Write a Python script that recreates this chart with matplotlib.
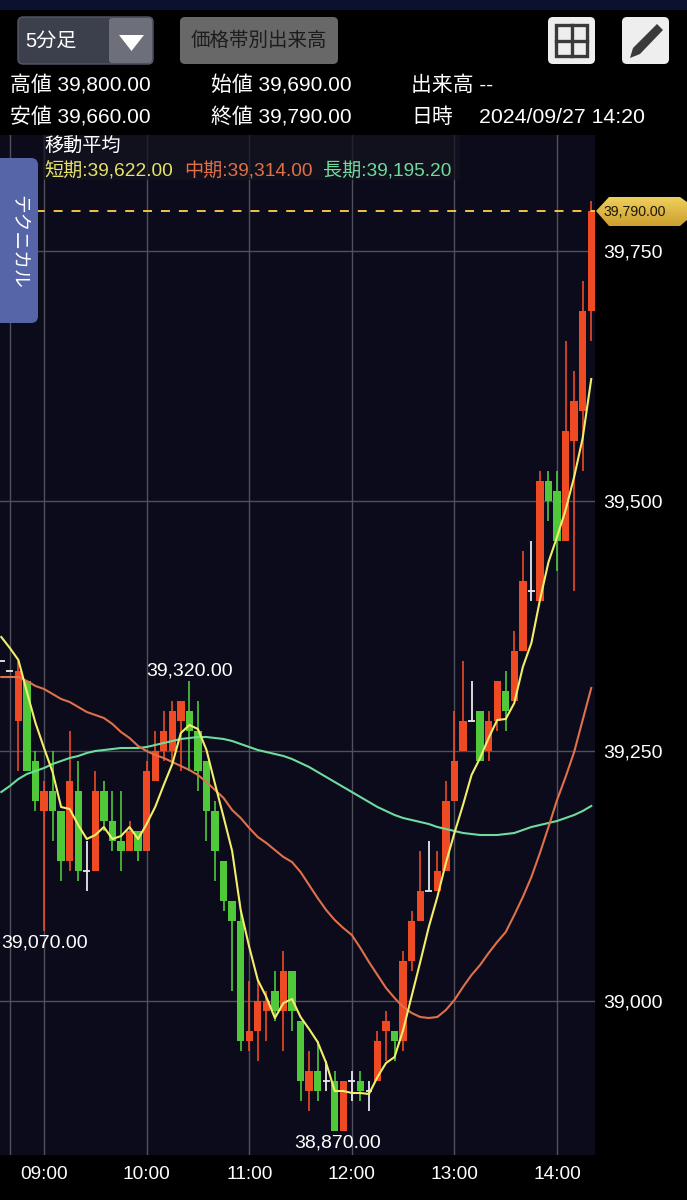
import numpy as np
import matplotlib
matplotlib.use("Agg")
import matplotlib.pyplot as plt
from matplotlib.patches import FancyBboxPatch, Polygon, Rectangle

plt.rcParams['font.family'] = ['Liberation Sans', 'Noto Sans CJK JP', 'DejaVu Sans']

opens = [39340, 39330, 39280, 39320, 39240, 39190, 39210, 39190, 39140, 39210,
         39130, 39130, 39210, 39180, 39160, 39150, 39170, 39150, 39220, 39250,
         39250, 39280, 39290, 39270, 39240, 39190, 39140, 39100, 39080, 38960,
         38970, 38990, 39010, 38990, 39030, 38980, 38910, 38930, 38920, 38920,
         38870, 38920, 38920, 38910, 38920, 38970, 38970, 38960, 39040, 39080,
         39110, 39110, 39130, 39200, 39250, 39280, 39290, 39250, 39280, 39310,
         39300, 39350, 39410, 39400, 39520, 39510, 39460, 39560, 39590, 39690]
highs = [39340, 39330, 39340, 39320, 39250, 39220, 39250, 39190, 39270, 39240,
         39160, 39230, 39220, 39210, 39210, 39180, 39170, 39240, 39270, 39290,
         39300, 39300, 39320, 39300, 39240, 39200, 39140, 39100, 39090, 39020,
         39020, 39010, 39030, 39050, 39030, 38980, 38950, 38960, 38940, 38930,
         38920, 38930, 38930, 38920, 38970, 38990, 38970, 39050, 39090, 39150,
         39160, 39150, 39220, 39290, 39340, 39320, 39290, 39290, 39320, 39330,
         39370, 39450, 39460, 39530, 39530, 39530, 39660, 39630, 39720, 39800]
lows = [39340, 39330, 39230, 39230, 39190, 39070, 39160, 39120, 39130, 39120,
        39110, 39130, 39170, 39150, 39130, 39150, 39140, 39150, 39220, 39240,
        39240, 39230, 39230, 39210, 39160, 39120, 39090, 39010, 38950, 38950,
        38940, 38960, 38980, 38950, 38970, 38900, 38890, 38900, 38910, 38870,
        38870, 38900, 38900, 38890, 38920, 38940, 38940, 38950, 39030, 39080,
        39110, 39110, 39130, 39200, 39250, 39280, 39240, 39240, 39270, 39270,
        39300, 39350, 39400, 39400, 39480, 39430, 39460, 39410, 39530, 39660]
closes = [39340, 39330, 39330, 39230, 39200, 39210, 39190, 39140, 39220, 39130,
          39130, 39210, 39180, 39160, 39150, 39170, 39150, 39230, 39250, 39270,
          39290, 39300, 39270, 39230, 39190, 39150, 39100, 39080, 38960, 38970,
          39000, 39000, 38990, 39030, 38990, 38920, 38930, 38910, 38920, 38870,
          38920, 38920, 38910, 38910, 38960, 38980, 38960, 39040, 39080, 39110,
          39110, 39130, 39200, 39240, 39280, 39280, 39240, 39280, 39320, 39290,
          39350, 39420, 39410, 39520, 39500, 39460, 39570, 39600, 39690, 39790]

ma_short = [39364, 39353, 39341, 39309, 39278, 39253, 39229, 39194, 39192, 39176,
            39162, 39166, 39174, 39162, 39165, 39174, 39162, 39177, 39194, 39216,
            39237, 39268, 39276, 39272, 39251, 39217, 39184, 39150, 39091, 39054,
            39021, 39004, 38983, 38998, 39002, 38984, 38972, 38959, 38938, 38910,
            38910, 38908, 38908, 38907, 38924, 38938, 38944, 38971, 39005, 39039,
            39074, 39104, 39138, 39168, 39196, 39226, 39243, 39263, 39281, 39282,
            39298, 39334, 39358, 39401, 39439, 39464, 39491, 39524, 39563, 39622]
ma_mid = [39324, 39324, 39324, 39320, 39315, 39312, 39307, 39302, 39299, 39294,
          39289, 39286, 39283, 39277, 39269, 39263, 39255, 39250, 39246, 39243,
          39239, 39235, 39231, 39226, 39219, 39211, 39203, 39191, 39183, 39173,
          39164, 39158, 39151, 39144, 39139, 39129, 39116, 39103, 39091, 39081,
          39073, 39066, 39053, 39039, 39026, 39013, 39003, 38994, 38988, 38984,
          38983, 38984, 38991, 39001, 39014, 39026, 39036, 39048, 39059, 39069,
          39086, 39104, 39124, 39148, 39174, 39201, 39224, 39249, 39281, 39313]
ma_long = [39209, 39215, 39222, 39227, 39230, 39233, 39237, 39240, 39243, 39245,
           39248, 39250, 39251, 39252, 39253, 39253, 39253, 39254, 39256, 39258,
           39260, 39262, 39263, 39264, 39264, 39263, 39262, 39260, 39257, 39254,
           39251, 39249, 39247, 39245, 39242, 39238, 39234, 39229, 39224, 39219,
           39214, 39209, 39204, 39199, 39194, 39190, 39186, 39183, 39181, 39179,
           39177, 39174, 39172, 39170, 39168, 39167, 39166, 39166, 39166, 39167,
           39168, 39171, 39174, 39176, 39178, 39180, 39183, 39186, 39190, 39195]

first_idx = -5
idx = list(range(first_idx, first_idx + len(opens)))

time_pos = [-4, 0, 12, 24, 36, 48, 60]
time_labels = ['', '09:00', '10:00', '11:00', '12:00', '13:00', '14:00']
price_ticks = [39000, 39250, 39500, 39750]
price_labels = ['39,000', '39,250', '39,500', '39,750']
last_close = 39790

W, H = 687, 1200
RED, GREEN = '#ee4a24', '#4fc93a'
PANEL = '#0b0b1b'

fig = plt.figure(figsize=(W / 100, H / 100), dpi=100, facecolor='black')

# chart panel, x 0-595 and y 135-1155 in pixels
ax = fig.add_axes([0, 1 - 1155 / H, 595 / W, 1020 / H], facecolor=PANEL)
ax.set_xlim(-5.15, 64.44)
ax.set_ylim(38846, 39866)
ax.grid(True, color='#50505a', linewidth=1.0, zorder=1)
ax.set_axisbelow(True)
for s in ax.spines.values():
    s.set_visible(False)
ax.yaxis.tick_right()
ax.set_yticks(price_ticks, price_labels, color='white', fontsize=14)
ax.set_xticks(time_pos, time_labels, color='white', fontsize=13.8)
ax.tick_params(axis='y', length=0, pad=6)
ax.tick_params(axis='x', length=0, pad=8)

for i, o, h, l, c in zip(idx, opens, highs, lows, closes):
    if o == c:
        ax.vlines(i, l, h, color='#e8e8ee', linewidth=1.3, zorder=3)
        ax.hlines(c, i - 0.4, i + 0.4, color='#e8e8ee', linewidth=1.3, zorder=3)
        continue
    col = RED if c > o else GREEN
    ax.vlines(i, l, h, color=col, linewidth=1.2, zorder=3)
    ax.bar(i, abs(c - o), bottom=min(o, c), width=0.86, color=col, linewidth=0, zorder=3)

ax.plot(idx, ma_long, color='#6fdc9e', linewidth=1.5, zorder=4)
ax.plot(idx, ma_mid, color='#e0704a', linewidth=1.5, zorder=4)
ax.plot(idx, ma_short, color='#f2ee6a', linewidth=1.5, zorder=5)
ax.axhline(last_close, color='#f5c04a', linewidth=1.4, dashes=(4.6, 4.6), zorder=5)

# high and low markers
ax.text(17, 39320 + 1, '39,320.00', color='white', fontsize=14, ha='center', va='bottom', zorder=6)
ax.text(0, 39070 - 4, '39,070.00', color='white', fontsize=14, ha='center', va='top', zorder=6)
ax.text(34.3, 38870 - 4, '38,870.00', color='white', fontsize=14, ha='center', va='top', zorder=6)

# screen furniture, pixel coordinates
ui = fig.add_axes([0, 0, 1, 1], facecolor='none')
ui.set_xlim(0, W)
ui.set_ylim(H, 0)
ui.axis('off')
ui.set_autoscale_on(False)


def box(x, y, w, h, fc, ec='none', r=5, z=2, lw=1):
    p = FancyBboxPatch((x + r, y + r), w - 2 * r, h - 2 * r, boxstyle=f'round,pad={r}',
                       fc=fc, ec=ec, lw=lw, zorder=z)
    ui.add_patch(p)


def label(x, y, s, color='white', size=15, **kw):
    ui.text(x, y, s, color=color, fontsize=size, va='center', zorder=6, **kw)


ui.add_patch(Rectangle((0, 0), W, 10, fc='#0c1130', ec='none'))

# period selector
box(18, 17, 135, 47, '#3c3f4c', ec='#55586a')
box(109, 18, 43, 45, '#6d6f7a', r=3, z=3)
ui.add_patch(Polygon([[119, 35], [144, 35], [131.5, 51]], fc='white', ec='none', zorder=4))
label(25, 41, '5分足', size=14.5)

box(180, 17, 158, 47, '#686868')
label(259, 41, '価格帯別出来高', color='#1c1c1c', size=14, ha='center')

# grid and pencil buttons
box(548, 17, 47, 47, '#eeeeee')
ui.add_patch(Rectangle((556, 25), 31, 31, fc='none', ec='#3a3a3a', lw=2.4, zorder=4))
ui.plot([571.5, 571.5], [25, 56], color='#3a3a3a', lw=2.4, zorder=4)
ui.plot([556, 587], [40.5, 40.5], color='#3a3a3a', lw=2.4, zorder=4)
box(622, 17, 47, 47, '#eeeeee')
ui.add_patch(Polygon([[630, 58], [633, 48], [657, 24], [663, 30], [640, 54]],
                     fc='#3a3a3a', ec='none', zorder=4))

# OHLC header
label(10, 85.5, '高値 39,800.00')
label(10, 117.5, '安値 39,660.00')
label(211, 85.5, '始値 39,690.00')
label(211, 117.5, '終値 39,790.00')
label(411, 85.5, '出来高 --')
label(411, 117.5, '日時')
label(479, 117.5, '2024/09/27 14:20', size=15.3)

# moving average legend
ui.add_patch(Rectangle((44, 135), 416, 45, fc='#14141f', ec='none', alpha=0.75, zorder=2))
label(44, 147, '移動平均', size=13.8)
label(44, 171, '短期:39,622.00', color='#e8e26a', size=13.8)
label(184, 171, '中期:39,314.00', color='#e0704a', size=13.8)
label(323, 171, '長期:39,195.20', color='#6fdc9e', size=13.8)

# technical tab
ui.add_patch(Rectangle((0, 158), 10, 165, fc='#5565a8', ec='none', zorder=3))
box(0, 158, 38, 165, '#5565a8', r=7, z=3)
ui.text(18, 242, 'テクニカル', color='white', fontsize=13.5, rotation=-90,
        ha='center', va='center', zorder=6)

# last price tag
tag = Polygon([[596, 211], [609, 197], [680, 197], [687, 202], [687, 220], [680, 226], [609, 226]],
              fc='none', ec='none', zorder=4)
ui.add_patch(tag)
grad = np.linspace(0, 1, 30).reshape(-1, 1)
im = ui.imshow(grad, extent=(596, 687, 226, 197), aspect='auto', zorder=4,
               cmap=matplotlib.colors.LinearSegmentedColormap.from_list('tag', ['#efcf5c', '#cda030']),
               origin='upper')
im.set_clip_path(tag)
label(604, 212, '39,790.00', color='#1c1608', size=10.2)

fig.savefig('out.png', dpi=100, facecolor='black')
